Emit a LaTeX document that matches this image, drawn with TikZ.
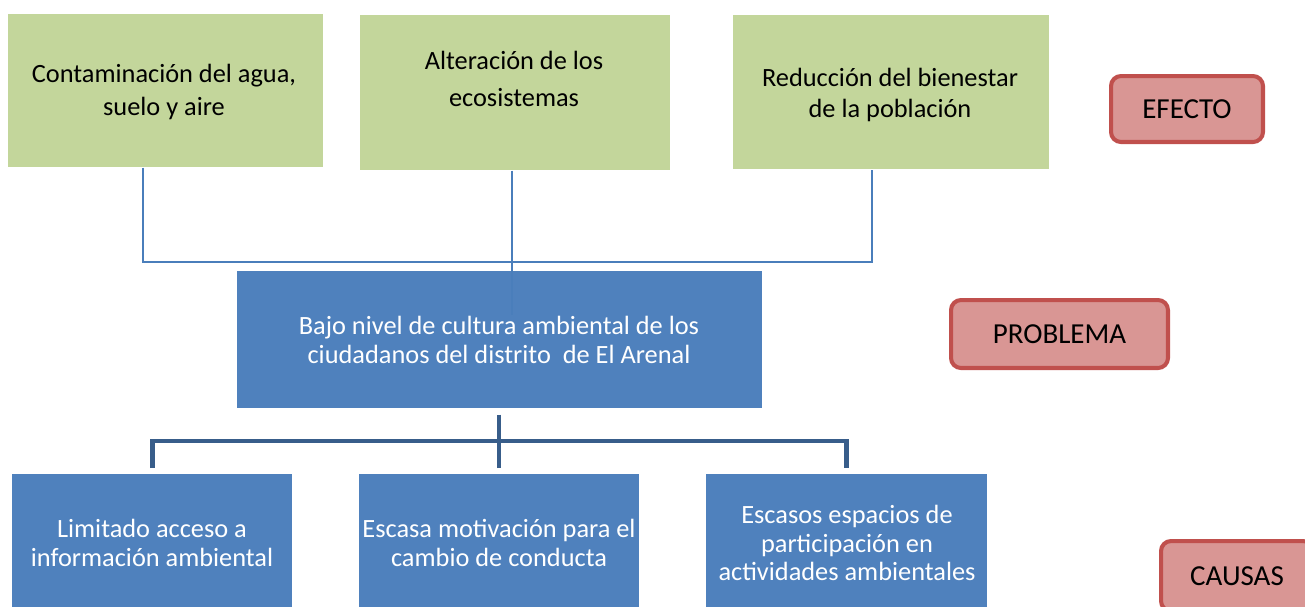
\documentclass[tikz,border=0pt]{standalone}
\usepackage{fontspec}
\setmainfont{Carlito}
\definecolor{cG}{HTML}{C3D69B}
\definecolor{cB}{HTML}{4F81BD}
\definecolor{cL}{HTML}{4A7EBB}
\definecolor{cT}{HTML}{385D8A}
\definecolor{cR}{HTML}{D99694}
\definecolor{cRb}{HTML}{C0504D}
\tikzstyle{box} = [rectangle, anchor=north west, inner sep=0mm]
\tikzstyle{tag} = [draw=cRb, fill=cR, line width=2.3pt, rounded corners=2mm,
                   anchor=north west, inner sep=0mm,
                   font=\fontsize{16.5}{19}\selectfont]
\tikzstyle{txt} = [align=center, inner sep=0mm]
\tikzstyle{lnk} = [cL, line width=1.1pt]
\tikzstyle{trunk} = [cT, line width=2.8pt]

\begin{document}
\begin{tikzpicture}[x=0.02cm,y=-0.02cm]

\useasboundingbox (0,0) rectangle (1305,606);
\clip (0,0) rectangle (1305,606);

\node[box,fill=cG,minimum width=6.3cm,minimum height=3.06cm]
     at (8,14) (G1) {};
\node[box,fill=cG,minimum width=6.2cm,minimum height=3.1cm]
     at (360,15) (G2) {};
\node[box,fill=cG,minimum width=6.32cm,minimum height=3.08cm]
     at (733,15) (G3) {};

\node[txt,font=\fontsize{15}{19.2}\selectfont] at (164,92) (tG1)
     {Contaminación del agua,\\ suelo y aire};
\node[txt,font=\fontsize{15}{21.5}\selectfont] at (514,79) (tG2)
     {Alteración de los\\ ecosistemas};
\node[txt,font=\fontsize{15}{18.1}\selectfont] at (890,95) (tG3)
     {Reducción del bienestar\\ de la población};

\node[box,fill=cB,minimum width=10.5cm,minimum height=2.74cm]
     at (237,271) (P) {};
\node[txt,white,font=\fontsize{15}{16.4}\selectfont] at (499,340) (tP)
     {Bajo nivel de cultura ambiental de los\\ ciudadanos del distrito\ \ de El Arenal};

\coordinate (jL) at (143,262);
\coordinate (jR) at (872,262);
\coordinate (jC) at (512,315);
\draw[lnk] (G1.south -| jL) -- (jL) -- (jR) -- (G3.south -| jR);
\draw[lnk] (G2.south -| jC) -- (jC);

\node[box,fill=cB,minimum width=5.6cm,minimum height=2.92cm]
     at (12,474) (C1) {};
\node[box,fill=cB,minimum width=5.6cm,minimum height=2.92cm]
     at (359,474) (C2) {};
\node[box,fill=cB,minimum width=5.62cm,minimum height=2.92cm]
     at (706,474) (C3) {};

\node[txt,white,font=\fontsize{15}{16.8}\selectfont] at (152,543) (tC1)
     {Limitado acceso a\\ información ambiental};
\node[txt,white,font=\fontsize{15}{16.8}\selectfont] at (499,543) (tC2)
     {Escasa motivación para el\\ cambio de conducta};
\node[txt,white,font=\fontsize{15}{16.4}\selectfont] at (847,543) (tC3)
     {Escasos espacios de\\ participación en\\ actividades ambientales};

\coordinate (kM) at (499,441);
\draw[trunk] (P.south -| kM) ++(0,6) -- (kM);
\draw[trunk] (C1.north) ++(0,-6) -- (C1.north |- kM)
     -- (C3.north |- kM) --++(0,27);
\draw[trunk] (C2.north -| kM) ++(0,-6) -- (kM);

\node[tag,minimum width=3.04cm,minimum height=1.32cm]
     at (1109,74) (efecto) {EFECTO};
\node[tag,minimum width=4.34cm,minimum height=1.36cm]
     at (949,298) (problema) {PROBLEMA};
\node[tag,minimum width=3.04cm,minimum height=1.4cm]
     at (1159,539) (causas) {CAUSAS};

\end{tikzpicture}
\end{document}
